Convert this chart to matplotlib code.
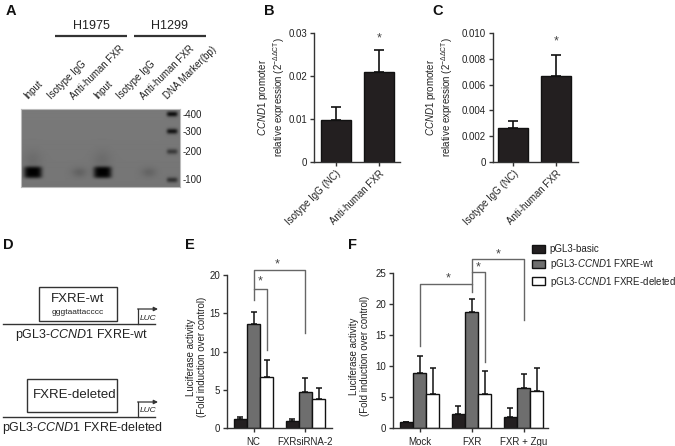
import numpy as np
import matplotlib
matplotlib.use('Agg')
import matplotlib.pyplot as plt
from matplotlib.patches import Rectangle, Patch

plt.rcParams['font.family'] = ['Liberation Sans', 'DejaVu Sans']
plt.rcParams['mathtext.fontset'] = 'custom'
plt.rcParams['mathtext.rm'] = 'Liberation Sans'
plt.rcParams['mathtext.it'] = 'Liberation Sans:italic'
plt.rcParams['mathtext.default'] = 'regular'
plt.rcParams['axes.linewidth'] = 1.0

# ---------------- data ----------------
# Panel A (ChIP gel)
gel_lanes = ['Input', 'Isotype IgG', 'Anti-human FXR', 'Input', 'Isotype IgG',
             'Anti-human FXR', 'DNA Marker(bp)']
gel_band_strength = [1.0, 0.0, 0.22, 1.0, 0.0, 0.2]
marker_labels = ['-400', '-300', '-200', '-100']
marker_pos = [6, 23, 43, 71]
marker_strength = [0.95, 0.9, 0.55, 0.6]
sample_band_pos = 63.5
cell_lines = ['H1975', 'H1299']

# Panels B, C
bc_categories = ['Isotype IgG (NC)', 'Anti-human FXR']
b_values = [0.0097, 0.0210]
b_errors = [0.0030, 0.0051]
c_values = [0.0026, 0.0067]
c_errors = [0.00055, 0.0016]

# Panel E
e_groups = ['NC', 'FXRsiRNA-2']
e_basic = [1.17, 0.9]
e_basic_err = [0.25, 0.32]
e_wt = [13.6, 4.7]
e_wt_err = [1.6, 1.8]
e_del = [6.65, 3.8]
e_del_err = [2.25, 1.4]

# Panel F
f_groups = ['Mock', 'FXR', 'FXR + Zgu']
f_basic = [0.97, 2.26, 1.9]
f_basic_err = [0.0, 1.4, 1.3]
f_wt = [8.9, 18.8, 6.45]
f_wt_err = [2.7, 2.1, 2.25]
f_del = [5.5, 5.5, 6.0]
f_del_err = [4.2, 3.8, 3.7]

series_labels = ['pGL3-basic', 'pGL3-$\\mathit{CCND1}$ FXRE-wt',
                 'pGL3-$\\mathit{CCND1}$ FXRE-deleted']
series_colors = ['#231f20', '#6e6e6e', '#ffffff']

# significance brackets: (x_left, x_right, y_bar, y_left_end, y_right_end)
e_brackets = [(0.0, 0.255, 18.2, 16.7, 10.2), (0.0, 1.0, 20.6, 18.2, 12.4)]
e_stars = [(0.13, 19.1), (0.46, 21.4)]
f_brackets = [(0.0, 1.0, 23.2, 13.3, 22.0), (1.0, 1.25, 25.2, 23.2, 10.7),
              (1.0, 2.0, 27.3, 25.2, 17.5)]
f_stars = [(0.55, 24.1), (1.125, 26.0), (1.51, 28.1)]

# ---------------- layout helpers ----------------
W, H = 675, 446
fig = plt.figure(figsize=(W / 100, H / 100), dpi=100)


def rect(l, t, r, b):
    return [l / W, 1 - b / H, (r - l) / W, (b - t) / H]


TXT = '#222222'
ov = fig.add_axes([0, 0, 1, 1])
ov.set_xlim(0, W)
ov.set_ylim(H, 0)
ov.axis('off')

# panel letters
for letter, (x, y) in zip('ABCDEF', [(6, 4), (264, 4), (432, 4), (3, 238), (185, 238), (348, 238)]):
    ov.text(x, y, letter, fontsize=10.5, fontweight='bold', ha='left', va='top', color='#111')

# ---------------- Panel A ----------------
gax = fig.add_axes(rect(21, 109, 180, 187))
gh, gw = 78, 159
yy, xx = np.mgrid[0:gh, 0:gw] + 0.5
lane_px = 12 + 23.2 * np.arange(len(gel_lanes))
img = np.full((gh, gw), 0.475)
img -= 0.015 * (yy / gh)
for i, s in enumerate(gel_band_strength):
    cx = lane_px[i]
    if s > 0.5:
        img -= 0.45 * s * np.exp(-((xx - cx) / 9.0) ** 4 - ((yy - sample_band_pos) / 5.8) ** 4)
        img -= 0.04 * s * np.exp(-((xx - cx) / 9.0) ** 2 - ((yy - sample_band_pos + 12) / 10) ** 2)
    else:
        img -= 0.33 * s * np.exp(-((xx - cx) / 7.5) ** 2 - ((yy - sample_band_pos) / 5.0) ** 2)
for p, s in zip(marker_pos, marker_strength):
    cx = lane_px[6]
    img -= 0.43 * s * np.exp(-((xx - cx) / 5.5) ** 4 - ((yy - p) / 2.6) ** 2)
gax.imshow(np.clip(img, 0, 1), cmap='gray', vmin=0, vmax=1, extent=(0, gw, gh, 0),
           aspect='auto', interpolation='bilinear')
gax.set_xlim(0, gw)
gax.set_ylim(gh, 0)
gax.set_xticks([])
gax.set_yticks([])
for sp in gax.spines.values():
    sp.set_color('#bbbbbb')
    sp.set_linewidth(0.8)
for i, lab in enumerate(gel_lanes):
    gax.text(lane_px[i] - 5, -9, lab, rotation=45, rotation_mode='anchor',
             ha='left', va='baseline', fontsize=7, color=TXT, clip_on=False)
for lab, p in zip(marker_labels, marker_pos):
    gax.text(gw + 3, p, lab, ha='left', va='center', fontsize=7, color=TXT, clip_on=False)

# cell line headers
for name, (x1, x2) in zip(cell_lines, [(55, 127), (134, 206)]):
    ov.plot([x1, x2], [36, 36], color='#333333', lw=1.6, solid_capstyle='butt')
    ov.text((x1 + x2) / 2, 26, name, ha='center', va='center', fontsize=9, color=TXT)


def style_axes(ax):
    for s in ['top', 'right']:
        ax.spines[s].set_visible(False)
    for s in ['left', 'bottom']:
        ax.spines[s].set_color('#333333')
    ax.tick_params(direction='out', length=3, width=1, labelsize=7, colors='#333333',
                   labelcolor=TXT, pad=2)


# ---------------- Panels B, C ----------------
ylab_bc = '$\\mathit{CCND1}$ promoter\nrelative expression (2$^{-\\Delta\\Delta CT}$)'
for box, vals, errs, yt, ytl, xl, labx, star_y in [
        ((314, 33.3, 400, 161.7), b_values, b_errors, [0, 0.01, 0.02, 0.03],
         ['0', '0.01', '0.02', '0.03'], (-0.51, 1.49), -0.31, 0.0289),
        ((493, 33.3, 578, 161.7), c_values, c_errors, [0, 0.002, 0.004, 0.006, 0.008, 0.010],
         ['0', '0.002', '0.004', '0.006', '0.008', '0.010'], (-0.465, 1.51), -0.445, 0.00935)]:
    ax = fig.add_axes(rect(*box))
    x = np.arange(len(vals))
    ax.bar(x, vals, width=0.68, color='#231f20', edgecolor='#111111', linewidth=1)
    ax.errorbar(x, vals, yerr=[np.zeros(len(vals)), errs], fmt='none', ecolor='#111111',
                elinewidth=1.2, capsize=3.5, capthick=1.2)
    ax.set_ylim(yt[0], yt[-1])
    ax.set_xlim(*xl)
    ax.set_yticks(yt)
    ax.set_yticklabels(ytl)
    ax.set_xticks(x)
    ax.set_xticklabels(bc_categories, rotation=45, ha='right', rotation_mode='anchor')
    style_axes(ax)
    ax.set_ylabel(ylab_bc, fontsize=7, color=TXT, linespacing=1.1)
    ax.yaxis.set_label_coords(labx, 0.5)
    ax.text(1, star_y, '*', ha='center', va='center', fontsize=9, color='#444444')


# ---------------- Panels E, F ----------------
def grouped(box, groups, series, errs, ylim, yticks, xl, brackets, stars, labx):
    ax = fig.add_axes(rect(*box))
    x = np.arange(len(groups))
    w = 0.255
    for k, (vals, er, col) in enumerate(zip(series, errs, series_colors)):
        xs = x + (k - 1) * w
        ax.bar(xs, vals, width=w, color=col, edgecolor='#111111', linewidth=1,
               label=series_labels[k])
        ax.errorbar(xs, vals, yerr=[np.zeros(len(vals)), er], fmt='none', ecolor='#111111',
                    elinewidth=1.1, capsize=2.4, capthick=1.1)
    ax.set_ylim(*ylim)
    ax.set_yticks(yticks)
    ax.set_xlim(*xl)
    ax.set_xticks(x)
    ax.set_xticklabels(groups)
    style_axes(ax)
    ax.tick_params(axis='x', pad=3)
    ax.set_ylabel('Luciferase activity\n(Fold induction over control)', fontsize=7,
                  color=TXT, linespacing=1.1)
    ax.yaxis.set_label_coords(labx, 0.465)
    for (x1, x2, yb, yl, yr) in brackets:
        ax.plot([x1, x1, x2, x2], [yl, yb, yb, yr], color='#666666', lw=1, clip_on=False)
    for (sx, sy) in stars:
        ax.text(sx, sy, '*', ha='center', va='center', fontsize=9, color='#444444',
                clip_on=False)
    return ax


grouped((227, 275, 332, 428.3), e_groups, [e_basic, e_wt, e_del],
        [e_basic_err, e_wt_err, e_del_err], (0, 20), [0, 5, 10, 15, 20], (-0.51, 1.51),
        e_brackets, e_stars, -0.195)
axf = grouped((393, 273.3, 548, 428.3), f_groups, [f_basic, f_wt, f_del],
              [f_basic_err, f_wt_err, f_del_err], (0, 25), [0, 5, 10, 15, 20, 25],
              (-0.51, 2.47), f_brackets, f_stars, -0.148)
handles = [Patch(facecolor=c, edgecolor='#111111', linewidth=1) for c in series_colors]
axf.legend(handles, series_labels, loc='upper left', bbox_to_anchor=(532 / W, 1 - 244 / H),
           bbox_transform=fig.transFigure, frameon=False, fontsize=7, handlelength=1.3,
           handleheight=0.9, labelspacing=0.35, handletextpad=0.5, borderpad=0,
           borderaxespad=0, labelcolor=TXT)

# ---------------- Panel D ----------------
for (bl, bt, br, bb), title, seq, ly, label, lab_x in [
        ((39, 287, 117, 321), 'FXRE-wt', 'gggtaattacccc', 324, 'pGL3-$\\mathit{CCND1}$ FXRE-wt', 82),
        ((27, 379, 117, 412), 'FXRE-deleted', None, 417, 'pGL3-$\\mathit{CCND1}$ FXRE-deleted', 82)]:
    ov.add_patch(Rectangle((bl, bt), br - bl, bb - bt, fill=False, ec='#333333', lw=1))
    if seq:
        ov.text((bl + br) / 2, bt + 12, title, ha='center', va='center', fontsize=9.5, color=TXT)
        ov.text((bl + br) / 2, bt + 26, seq, ha='center', va='center', fontsize=6, color=TXT)
    else:
        ov.text((bl + br) / 2 + 3, (bt + bb) / 2, title, ha='center', va='center',
                fontsize=9.5, color=TXT)
    ov.plot([3, 155], [ly, ly], color='#333333', lw=1)
    ov.plot([138, 138], [ly, ly - 15], color='#333333', lw=0.9)
    ov.annotate('', xy=(158, ly - 15), xytext=(137.6, ly - 15),
                arrowprops=dict(arrowstyle='-|>', lw=0.9, color='#333333', mutation_scale=6,
                                shrinkA=0, shrinkB=0))
    ov.text(148, ly - 6, 'LUC', ha='center', va='center', fontsize=6, style='italic', color=TXT)
    ov.text(lab_x, ly + 11, label, ha='center', va='center', fontsize=9, color=TXT)

fig.savefig('out.png', dpi=100)
